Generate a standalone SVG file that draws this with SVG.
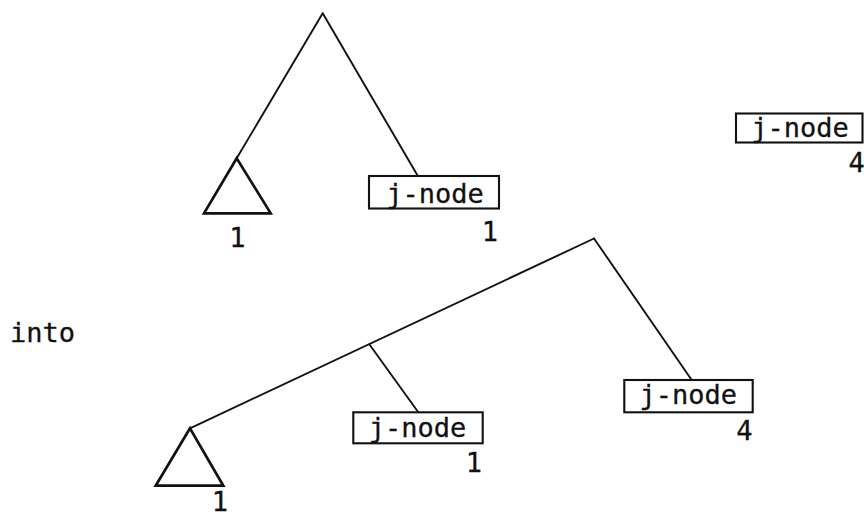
<svg xmlns="http://www.w3.org/2000/svg" width="864" height="518" viewBox="0 0 864 518">
<style>
.ln{stroke:#111;stroke-width:1.9;fill:none;stroke-linecap:round}
.tri{stroke:#111;stroke-width:2.7;fill:none;stroke-linejoin:miter}
.box{stroke:#111;stroke-width:2.1;fill:#fff}
.t{font-family:"DejaVu Sans Mono","Liberation Mono",monospace;font-size:27px;fill:#111;stroke:#111;stroke-width:0.3}
.m{text-anchor:middle}
</style>
<rect width="864" height="518" fill="#fff"/>
<g id="connectors">
<path class="ln" d="M322.7,13.3 L236.7,158.3"/>
<path class="ln" d="M322.7,13.3 L417.7,175.7"/>
<path class="ln" d="M594,238.5 L190,428.3"/>
<path class="ln" d="M369.3,344.3 L418.3,412.3"/>
<path class="ln" d="M594,238.5 L691.7,380"/>
</g>
<g id="top-subtree">
<path class="tri" d="M236.7,158.3 L204,213.3 L270.7,213.3 Z"/>
<text class="t m" x="237.5" y="247">1</text>
</g>
<g id="top-jnode">
<rect class="box" x="369" y="176" width="130" height="32.5"/>
<text class="t m" x="435" y="202.5">j-node</text>
<text class="t m" x="490" y="241">1</text>
</g>
<g id="right-jnode">
<rect class="box" x="736" y="113.5" width="126.5" height="29"/>
<text class="t m" x="800" y="137">j-node</text>
<text class="t m" x="856.7" y="172">4</text>
</g>
<text class="t" x="10" y="341.5">into</text>
<g id="bottom-subtree">
<path class="tri" d="M190,428.3 L155.7,485.7 L223.3,485.7 Z"/>
<text class="t m" x="220" y="511">1</text>
</g>
<g id="bottom-jnode1">
<rect class="box" x="353.3" y="412.3" width="129.4" height="31"/>
<text class="t m" x="417.5" y="436.5">j-node</text>
<text class="t m" x="474" y="471.5">1</text>
</g>
<g id="bottom-jnode4">
<rect class="box" x="624.3" y="380" width="128.4" height="32.3"/>
<text class="t m" x="688.3" y="403.5">j-node</text>
<text class="t m" x="744.5" y="440">4</text>
</g>
</svg>
